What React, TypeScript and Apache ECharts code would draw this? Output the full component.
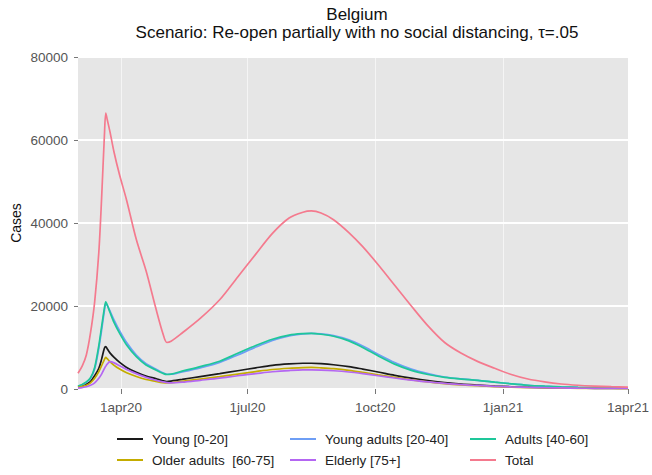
import React, { useEffect, useRef } from "react";
import * as echarts from "echarts";

const dates = [
  "2020-03-01", "2020-03-04", "2020-03-07", "2020-03-10", "2020-03-13", "2020-03-16", "2020-03-18",
  "2020-03-20", "2020-03-21", "2020-03-22", "2020-03-24", "2020-03-27", "2020-03-31", "2020-04-05",
  "2020-04-12", "2020-04-19", "2020-04-26", "2020-05-01", "2020-05-04", "2020-05-07", "2020-05-15",
  "2020-05-28", "2020-06-11", "2020-06-24", "2020-07-07", "2020-07-19", "2020-07-31", "2020-08-10",
  "2020-08-16", "2020-08-23", "2020-09-01", "2020-09-12", "2020-09-22", "2020-10-03", "2020-10-15",
  "2020-10-27", "2020-11-08", "2020-11-20", "2020-12-02", "2020-12-14", "2020-12-26", "2021-01-07",
  "2021-01-19", "2021-01-31", "2021-02-12", "2021-02-24", "2021-03-08", "2021-03-20", "2021-04-01",
];

const young = [
  500, 750, 1150, 1800, 3200, 5000, 7200, 9800, 10200, 9700, 8700, 7600, 6400, 5200,
  4000, 3100, 2500, 2000, 1800, 1900, 2300, 3000, 3700, 4400, 5100, 5700, 6050, 6200,
  6200, 6100, 5850, 5400, 4800, 4100, 3300, 2600, 2000, 1550, 1200, 950, 720, 540,
  420, 330, 260, 210, 170, 140, 120,
];
const youngAdults = [
  650, 1000, 1600, 2500, 4800, 9800, 14200, 18800, 20600, 20200, 18800, 16600, 14000, 11200,
  8200, 6100, 4800, 3900, 3550, 3550, 4100, 5100, 6400, 8200, 10100, 11700, 12800, 13300,
  13400, 13300, 12850, 11850, 10350, 8400, 6400, 4800, 3700, 2900, 2450, 2100, 1650, 1250,
  900, 680, 510, 400, 320, 260, 220,
];
const adults = [
  700, 1100, 1700, 2700, 5200, 10500, 15000, 19500, 21000, 20300, 18500, 16000, 13400, 10600,
  7800, 5800, 4600, 3800, 3500, 3600, 4300, 5400, 6700, 8600, 10500, 12000, 13000, 13350,
  13400, 13200, 12700, 11600, 10000, 8000, 6000, 4500, 3500, 2800, 2400, 2100, 1650, 1250,
  900, 680, 510, 400, 320, 260, 220,
];
const olderAdults = [
  400, 600, 900, 1500, 2600, 4200, 5600, 7100, 7600, 7300, 6600, 5700, 4800, 3900,
  3000, 2300, 1850, 1550, 1450, 1500, 1850, 2400, 3000, 3600, 4200, 4700, 5000, 5150,
  5200, 5100, 4900, 4500, 4000, 3400, 2800, 2200, 1700, 1300, 1000, 780, 580, 440,
  340, 270, 210, 170, 140, 120, 100,
];
const elderly = [
  200, 350, 550, 900, 1500, 2600, 3600, 4900, 5500, 6000, 6600, 6300, 5600, 4700,
  3700, 2800, 2100, 1700, 1550, 1500, 1650, 2100, 2600, 3200, 3700, 4150, 4450, 4600,
  4600, 4550, 4400, 4100, 3700, 3200, 2650, 2150, 1700, 1350, 1050, 850, 650, 500,
  390, 310, 250, 200, 165, 140, 120,
];
const total = [
  3800, 5500, 8200, 13500, 21000, 33000, 46000, 61000, 66500, 65000, 62000, 57000, 51500, 45500,
  36000, 28500, 19500, 13500, 11200, 11500, 13500, 17000, 21500, 27000, 32500, 37500, 41200, 42600,
  42900, 42400, 40800, 37700, 34300, 30000, 25000, 20000, 15200, 11200, 8600, 6600, 5000, 3500,
  2400, 1700, 1200, 900, 700, 550, 450,
];

const seriesNames = [
  "Young [0-20]",
  "Young adults [20-40]",
  "Adults [40-60]",
  "Older adults  [60-75]",
  "Elderly [75+]",
  "Total",
];
const seriesColors = ["#1a1a1a", "#6e9ef5", "#1ec79a", "#c4ac00", "#b466f2", "#f47a8e"];

const startDate = "2020-03-01";
const endDate = "2021-04-01";
const tickDates = ["2020-04-01", "2020-07-01", "2020-10-01", "2021-01-01", "2021-04-01"];
const tickLabels = ["1apr20", "1jul20", "1oct20", "1jan21", "1apr21"];

const titleText = "Belgium";
const subtitleText = "Scenario: Re-open partially with no social distancing, \u03c4=.05";
const yAxisTitle = "Cases";

const FONT = "'Liberation Sans', Arial, Helvetica, sans-serif";

// legend grid: series index -> [column, row]
const legendCells: [number, number][] = [
  [0, 0],
  [1, 0],
  [2, 0],
  [0, 1],
  [1, 1],
  [2, 1],
];
const legendColumnsX = [117, 290, 470];
const legendRowsY = [432, 453];

function dayIndex(s: string): number {
  const [y, m, d] = s.split("-").map(Number);
  const [y0, m0, d0] = startDate.split("-").map(Number);
  return Math.round((Date.UTC(y, m - 1, d) - Date.UTC(y0, m0 - 1, d0)) / 86400000);
}

export default function App() {
  const ref = useRef<HTMLDivElement>(null);

  useEffect(() => {
    if (!ref.current) return;
    const chart = echarts.init(ref.current, null, { renderer: "svg" });
    const xs = dates.map(dayIndex);
    const tickDays = tickDates.map(dayIndex);
    const allValues = [young, youngAdults, adults, olderAdults, elderly, total];

    const labelFor = (v: number) => {
      const i = tickDays.indexOf(Math.round(v));
      return i >= 0 ? tickLabels[i] : "";
    };

    const legends = seriesNames.map((name, i) => ({
      orient: "horizontal",
      left: legendColumnsX[legendCells[i][0]],
      top: legendRowsY[legendCells[i][1]],
      icon: "rect",
      itemWidth: 26,
      itemHeight: 2,
      padding: 0,
      selectedMode: false,
      data: [name],
      textStyle: { fontFamily: FONT, fontSize: 13.5, color: "#222", padding: [0, 0, 0, 4] },
    }));

    chart.setOption({
      animation: false,
      backgroundColor: "#ffffff",
      textStyle: { fontFamily: FONT },
      grid: {
        left: 78,
        right: 19,
        top: 57,
        bottom: 86,
        show: true,
        backgroundColor: "#e6e6e6",
        borderWidth: 0,
      },
      graphic: [
        {
          type: "text",
          x: 357,
          y: 14,
          style: {
            text: titleText,
            font: `17px ${FONT}`,
            fill: "#111",
            textAlign: "center",
            textVerticalAlign: "middle",
          },
        },
        {
          type: "text",
          x: 357,
          y: 32,
          style: {
            text: subtitleText,
            font: `17px ${FONT}`,
            fill: "#111",
            textAlign: "center",
            textVerticalAlign: "middle",
          },
        },
        {
          type: "text",
          x: 16,
          y: 223,
          rotation: Math.PI / 2,
          style: {
            text: yAxisTitle,
            font: `14px ${FONT}`,
            fill: "#111",
            textAlign: "center",
            textVerticalAlign: "middle",
          },
        },
      ],
      legend: legends,
      xAxis: {
        type: "value",
        min: dayIndex(startDate),
        max: dayIndex(endDate),
        offset: 2,
        axisLine: { show: false },
        axisTick: {
          show: true,
          customValues: tickDays,
          length: 5,
          lineStyle: { color: "#777" },
        },
        axisLabel: {
          customValues: tickDays,
          formatter: (v: number) => labelFor(v),
          color: "#555",
          fontSize: 13.5,
          fontFamily: FONT,
          margin: 9,
          showMinLabel: true,
          showMaxLabel: true,
        },
        splitLine: { show: true, lineStyle: { color: "#ffffff", width: 1, opacity: 0.6 } },
      },
      yAxis: {
        type: "value",
        min: 0,
        max: 80000,
        interval: 20000,
        offset: 2,
        axisLine: { show: false },
        axisTick: { show: true, length: 4, lineStyle: { color: "#777" } },
        axisLabel: {
          formatter: (v: number) => String(v),
          color: "#555",
          fontSize: 13.5,
          fontFamily: FONT,
          margin: 8,
        },
        splitLine: { show: true, lineStyle: { color: "#ffffff", width: 2 } },
      },
      series: seriesNames.map((name, i) => ({
        name,
        type: "line",
        symbol: "none",
        smooth: 0.3,
        color: seriesColors[i],
        lineStyle: { color: seriesColors[i], width: 1.7 },
        data: xs.map((x, j) => [x, allValues[i][j]]),
      })),
    });

    return () => chart.dispose();
  }, []);

  return <div ref={ref} style={{ width: 652, height: 475, position: "absolute", left: 0, top: 0 }} />;
}
